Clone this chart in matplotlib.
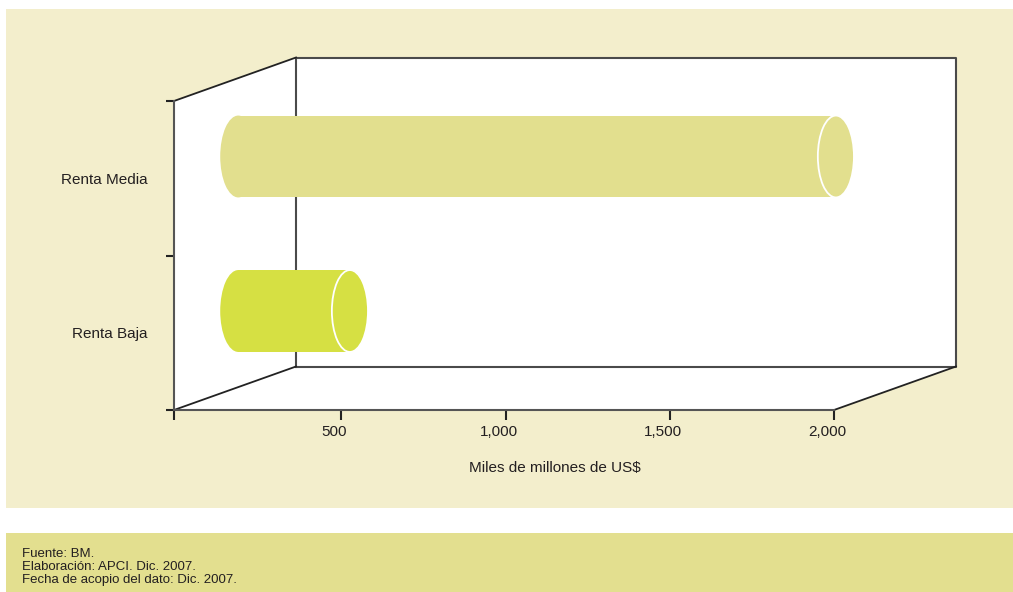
import matplotlib
matplotlib.use('Agg')
import matplotlib.pyplot as plt
from matplotlib.patches import Rectangle, Ellipse, Polygon
from matplotlib.lines import Line2D
from matplotlib.transforms import ScaledTranslation, IdentityTransform

# ---- data ----
categories = ['Renta Baja', 'Renta Media']
values = [340, 1820]
bar_colors = ['#d6e043', '#e2df8e']
xticks = [500, 1000, 1500, 2000]
xtick_labels = ['500', '1,000', '1,500', '2,000']
xlabel = 'Miles de millones de US$'
footer_lines = ['Fuente: BM.', 'Elaboración: APCI. Dic. 2007.', 'Fecha de acopio del dato: Dic. 2007.']

plt.rcParams['font.family'] = ['Liberation Sans', 'DejaVu Sans']
TXT = '#231f20'

W, H, DPI = 1013, 592, 100
fig = plt.figure(figsize=(W / DPI, H / DPI), dpi=DPI, facecolor='white')

# panels
fig.add_artist(Rectangle((6 / W, 1 - 508 / H), 1 - 6 / W, (508 - 9) / H, transform=fig.transFigure,
                         facecolor='#f3eecc', edgecolor='none', zorder=-2))
fig.add_artist(Rectangle((6 / W, 0), 1 - 6 / W, (592 - 533) / H, transform=fig.transFigure,
                         facecolor='#e3df8f', edgecolor='none', zorder=-2))

ax = fig.add_axes([174 / W, 1 - 410 / H, 660 / W, 309 / H])
ax.set_facecolor('none')
X0, X1 = -10, 2000
ax.set_xlim(X0, X1)
ax.set_ylim(0, 2)

DX, DY = 122.0, 43.5  # depth offset in pixels


def P(x, y, z):
    px, py = ax.transData.transform((x, y))
    return (px + z * DX, py + z * DY)


ident = IdentityTransform()
# walls (white)
walls = [
    [P(X0, 0, 0), P(X0, 2, 0), P(X0, 2, 1), P(X0, 0, 1)],
    [P(X0, 0, 0), P(X1, 0, 0), P(X1, 0, 1), P(X0, 0, 1)],
    [P(X0, 0, 1), P(X1, 0, 1), P(X1, 2, 1), P(X0, 2, 1)],
]
for w in walls:
    ax.add_artist(Polygon(w, closed=True, transform=ident, facecolor='white',
                          edgecolor='none', zorder=0.5, clip_on=False))

# back rectangle edges
back = [P(X0, 0, 1), P(X1, 0, 1), P(X1, 2, 1), P(X0, 2, 1), P(X0, 0, 1)]
ax.add_artist(Line2D([p[0] for p in back], [p[1] for p in back], transform=ident,
                     color='#4a4a4a', lw=1.5, zorder=1, clip_on=False))
for (x, y) in [(X0, 2), (X0, 0), (X1, 0)]:
    a, b = P(x, y, 0), P(x, y, 1)
    ax.add_artist(Line2D([a[0], b[0]], [a[1], b[1]], transform=ident,
                         color='#222222', lw=1.3, zorder=1, clip_on=False))

# cylinders at mid depth
mid = ax.transData + ScaledTranslation(0.5 * DX / DPI, 0.5 * DY / DPI, fig.dpi_scale_trans)
capw, caph = 110, 0.53
for i, (v, c) in enumerate(zip(values, bar_colors)):
    yc = i + 0.5
    ax.add_patch(Ellipse((0, yc), capw, caph, transform=mid, facecolor=c,
                         edgecolor='none', zorder=2, clip_on=False))
    ax.add_patch(Rectangle((0, yc - caph / 2), v, caph, transform=mid, facecolor=c,
                           edgecolor='none', zorder=2, clip_on=False))
    ax.add_patch(Ellipse((v, yc), capw, caph, transform=mid, facecolor=c,
                         edgecolor='white', lw=1.3, zorder=3, clip_on=False))

# axes styling
for s in ['top', 'right']:
    ax.spines[s].set_visible(False)
for s in ['left', 'bottom']:
    ax.spines[s].set_color('#555555')
    ax.spines[s].set_linewidth(1.5)

ax.set_xticks(xticks, xtick_labels)
ax.set_xticks([X0], [''], minor=True)
ax.tick_params(axis='x', which='both', direction='out', length=7, width=1.5, color='#222222',
               labelsize=11, labelcolor=TXT, pad=4)
for lab in ax.get_xticklabels():
    lab.set_transform(lab.get_transform() + ScaledTranslation(-7 / DPI, 0, fig.dpi_scale_trans))

ax.set_yticks([0, 1, 2], ['', '', ''])
ax.set_yticks([0.5, 1.5], categories, minor=True)
ax.tick_params(axis='y', which='major', direction='out', length=6, width=1.5, color='#222222')
ax.tick_params(axis='y', which='minor', length=0, pad=19, labelsize=11, labelcolor=TXT)

ax.set_xlabel(xlabel, fontsize=11, color=TXT, va='center')
ax.xaxis.set_label_coords((555 - 174) / 660, -(468 - 410) / 309)

# footer
for k, line in enumerate(footer_lines):
    fig.text(22 / W, 1 - (557 + 13 * k) / H, line, fontsize=9.5, color=TXT, va='baseline', ha='left')

fig.savefig('out.png', dpi=DPI, facecolor='white')
